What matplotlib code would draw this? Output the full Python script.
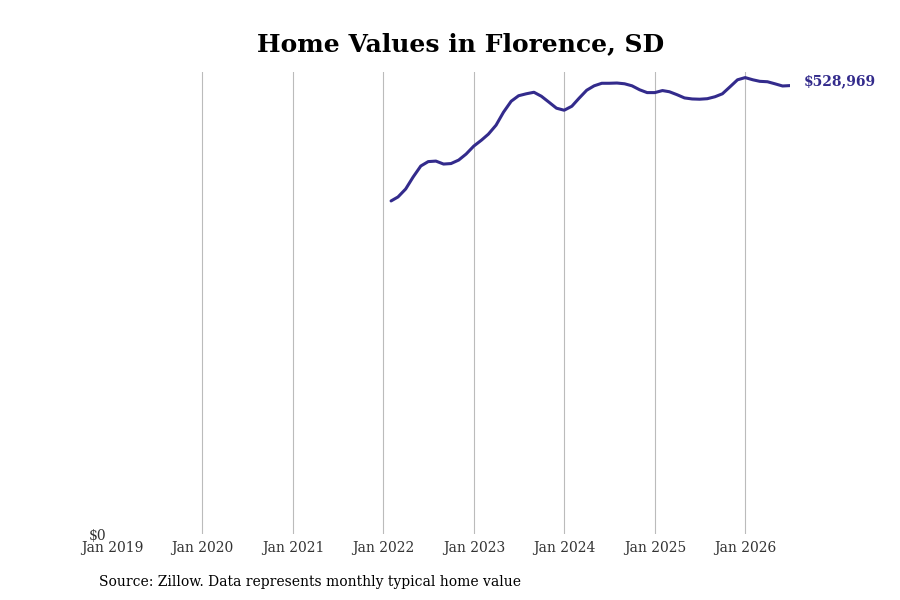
import matplotlib
matplotlib.use("Agg")
import matplotlib.pyplot as plt
import pandas as pd

# ---- data --------------------------------------------------------------------
START = "2022-02-01"
values = [
    392900, 397600, 407000, 421100, 434100, 439300, 439900, 436400, 437000,
    441100, 448200, 457600, 464600, 471700, 482300, 497600, 510500, 517000,
    519300, 521100, 516400, 509300, 502300, 499900, 504600, 514000, 523500,
    528700, 531700, 531700, 532000, 531100, 528700, 524000, 520700, 520700,
    523100, 521700, 518200, 514400, 513200, 512900, 513500, 515800, 519300,
    527600, 535800, 538400, 535800, 534000, 533500, 531100, 528500, 528969,
]
dates = pd.date_range(START, periods=len(values), freq="MS")
tick_years = list(range(2019, 2027))
tick_labels = [f"Jan {y}" for y in tick_years]

TITLE = "Home Values in Florence, SD"
SOURCE = "Source: Zillow. Data represents monthly typical home value"
LINE_C = "#332b8c"

plt.rcParams["font.family"] = ["DejaVu Serif"]

fig = plt.figure(figsize=(9, 6), dpi=100)
ax = fig.add_axes([112 / 900, 66 / 600, (790 - 112) / 900, (534 - 72) / 600])

ax.plot(dates, values, color=LINE_C, lw=2.2, solid_capstyle="round")

ax.set_xlim(pd.Timestamp("2019-01-01"), dates[-1])
ax.set_ylim(0, 545000)

ax.set_xticks([pd.Timestamp(f"{y}-01-01") for y in tick_years])
ax.set_xticklabels(tick_labels, fontsize=10, color="#333333")
ax.set_yticks([0])
ax.set_yticklabels(["$0"], fontsize=10, color="#333333")
ax.tick_params(axis="both", length=0)
ax.tick_params(axis="x", pad=5)
ax.tick_params(axis="y", pad=4)
ax.grid(axis="x", color="#bbbbbb", lw=0.8)
ax.xaxis.get_gridlines()[0].set_visible(False)   # no line at the left edge
ax.set_axisbelow(True)
for s in ax.spines.values():
    s.set_visible(False)

ax.annotate(f"${values[-1]:,}", xy=(dates[-1], values[-1]),
            xytext=(10, 3), textcoords="offset points",
            color=LINE_C, fontsize=10, fontweight="bold", va="center")

fig.text(461 / 900, 1 - 44 / 600, TITLE, ha="center", va="center",
         fontsize=18, fontweight="bold")
fig.text(99 / 900, 1 - 582 / 600, SOURCE, ha="left", va="center", fontsize=10)

fig.savefig("out.png", dpi=100)
